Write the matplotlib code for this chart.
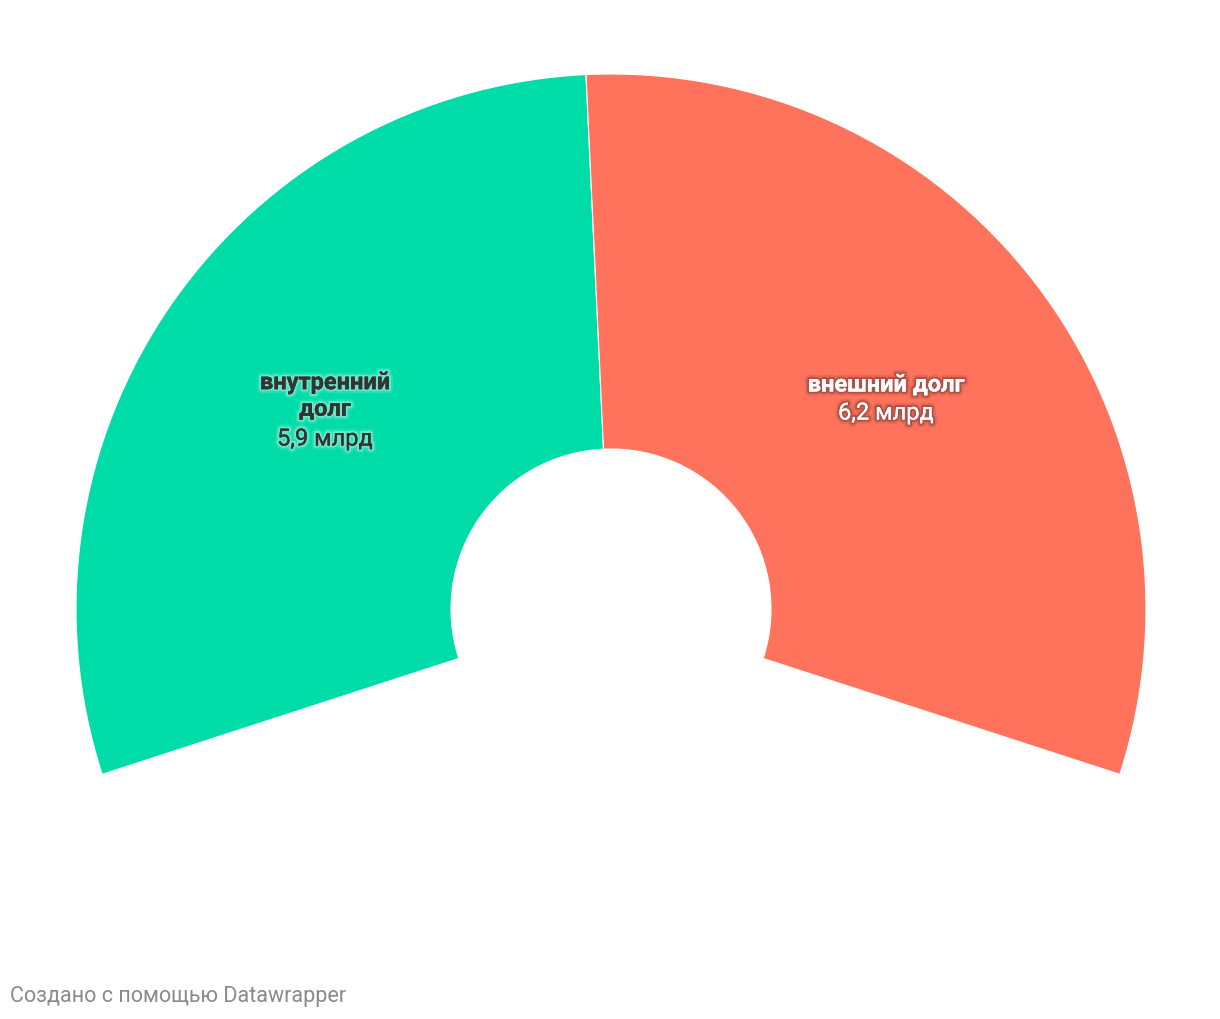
import matplotlib
matplotlib.use("Agg")
import matplotlib.pyplot as plt
import matplotlib.patheffects as pe

labels = ["внутренний\nдолг", "внешний долг"]
values = [5.9, 6.2]
value_labels = ["5,9 млрд", "6,2 млрд"]
colors = ["#00dca8", "#ff735c"]

plt.rcParams['font.family'] = ['Roboto', 'DejaVu Sans']

fig = plt.figure(figsize=(12.2, 10.2), dpi=100)
ax = fig.add_axes([0, 0, 1, 1])

span = 216.0
total = sum(values)
fracs = [v / total * span / 360.0 for v in values]
cx, cy = 611, 410
R, r = 535, 160
wedges, _ = ax.pie(fracs, colors=colors, startangle=198, counterclock=False,
                   normalize=False, center=(cx, cy), radius=R,
                   wedgeprops=dict(width=R - r, edgecolor='white', linewidth=0.8),
                   frame=True)
ax.set_xlim(0, 1220)
ax.set_ylim(0, 1020)
ax.set_aspect('equal')
ax.axis('off')

dark = "#333333"
def glow(c, a):
    return [pe.withStroke(linewidth=6, foreground=c + (a * 0.4,)),
            pe.withStroke(linewidth=3, foreground=c + (a,)),
            pe.Normal()]
halo_w = glow((1, 1, 1), 0.3)
halo_d = glow((0.25, 0.1, 0.1), 0.3)

fs = 17
ax.text(325, 1020 - 397, labels[0], ha='center', va='center', fontsize=fs,
        fontweight='bold', color=dark, linespacing=1.2, path_effects=halo_w)
ax.text(325, 1020 - 440, value_labels[0], ha='center', va='center', fontsize=fs,
        color=dark, path_effects=halo_w)
ax.text(886, 1020 - 386, labels[1], ha='center', va='center', fontsize=fs,
        fontweight='bold', color='white', path_effects=halo_d)
ax.text(886, 1020 - 414, value_labels[1], ha='center', va='center', fontsize=fs,
        color='white', path_effects=halo_d)

fig.text(10 / 1220, 1 - 997 / 1020, "Создано с помощью Datawrapper", ha='left',
         va='center', fontsize=15.5, color='#8a8a8a')

fig.savefig("out.png", dpi=100, facecolor='white')
